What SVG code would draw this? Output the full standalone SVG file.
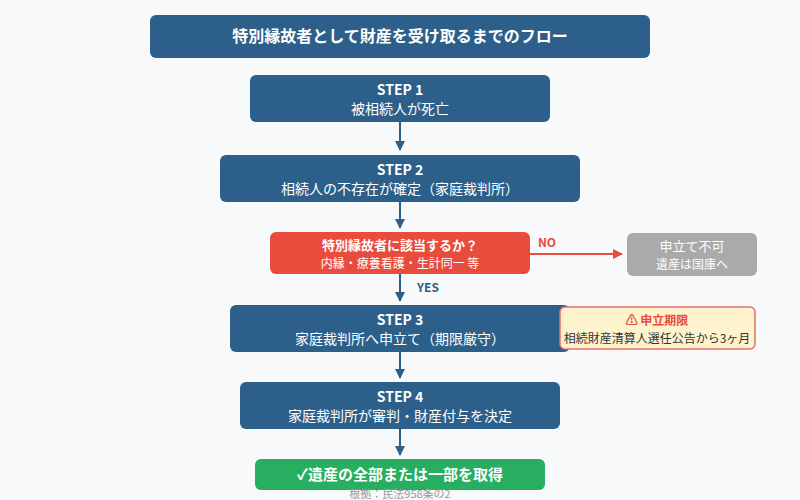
<svg xmlns="http://www.w3.org/2000/svg" width="800" height="500" viewBox="0 0 800 500">
<defs>
<marker id="ab" viewBox="0 0 10 10" refX="9" refY="5" markerWidth="5" markerHeight="5" orient="auto"><path d="M0,0L10,5L0,10z" fill="#2c5f8a"/></marker>
<marker id="ar" viewBox="0 0 10 10" refX="9" refY="5" markerWidth="5" markerHeight="5" orient="auto"><path d="M0,0L10,5L0,10z" fill="#e74c3c"/></marker>
<style>
text{font-family:"Noto Sans CJK JP","Noto Sans",sans-serif;text-anchor:middle}
.b{fill:#2c5f8a}
.t{fill:#fff;font-size:14px}
.h{fill:#fff;font-size:14px;font-weight:bold}
.l{stroke:#2c5f8a;stroke-width:2;fill:none;marker-end:url(#ab)}
</style>
</defs>
<rect width="800" height="500" fill="#f8f9fb"/>
<g id="title"><rect x="150" y="15" width="500" height="43" rx="6" class="b"/><text x="400" y="42" class="h" font-size="16" style="font-size:16px">特別縁故者として財産を受け取るまでのフロー</text></g>
<g id="connectors">
<path d="M400,122V150" class="l"/>
<path d="M400,202V228" class="l"/>
<path d="M400,274V301" class="l"/>
<path d="M400,352V378" class="l"/>
<path d="M400,429V455" class="l"/>
<path d="M530,254H622" stroke="#e74c3c" stroke-width="2" marker-end="url(#ar)"/>
<text x="547" y="247" style="fill:#e74c3c;font-size:12px;font-weight:bold">NO</text>
<text x="428" y="292" style="fill:#2c5f8a;font-size:12px;font-weight:bold">YES</text>
</g>
<g id="step1"><rect x="250" y="75" width="300" height="47" rx="6" class="b"/><text x="400" y="95" class="h">STEP 1</text><text x="400" y="114" class="t">被相続人が死亡</text></g>
<g id="step2"><rect x="220" y="155" width="360" height="47" rx="6" class="b"/><text x="400" y="175" class="h">STEP 2</text><text x="400" y="194" class="t">相続人の不存在が確定（家庭裁判所）</text></g>
<g id="decision"><rect x="270" y="232" width="260" height="42" rx="6" fill="#e74c3c"/><text x="400" y="250" class="h" style="font-size:13px">特別縁故者に該当するか？</text><text x="400" y="268" class="t" style="font-size:12px">内縁・療養看護・生計同一 等</text></g>
<g id="no"><rect x="627" y="233" width="130" height="43" rx="6" fill="#aaaaaa"/><text x="692" y="251" class="t" style="font-size:13px">申立て不可</text><text x="692" y="269" class="t" style="font-size:12px">遺産は国庫へ</text></g>
<g id="step3"><rect x="230" y="305" width="340" height="47" rx="6" class="b"/><text x="400" y="325" class="h">STEP 3</text><text x="400" y="344" class="t">家庭裁判所へ申立て（期限厳守）</text></g>
<g id="note"><rect x="560" y="307" width="195" height="42" rx="5" fill="#fff3cd" stroke="#e57368" stroke-width="1.5"/><text x="657" y="325" style="fill:#e74c3c;font-size:12px;font-weight:bold">⚠ 申立期限</text><text x="657" y="343" style="fill:#333;font-size:12px">相続財産清算人選任公告から3ヶ月</text></g>
<g id="step4"><rect x="240" y="382" width="320" height="47" rx="6" class="b"/><text x="400" y="402" class="h">STEP 4</text><text x="400" y="421" class="t">家庭裁判所が審判・財産付与を決定</text></g>
<g id="result"><rect x="255" y="459" width="290" height="31" rx="6" fill="#27ae60"/><text x="400" y="480" class="h" style="font-size:15px">✓遺産の全部または一部を取得</text></g>
<text x="400" y="498" style="fill:#999;font-size:11px">根拠：民法958条の2</text>
</svg>
